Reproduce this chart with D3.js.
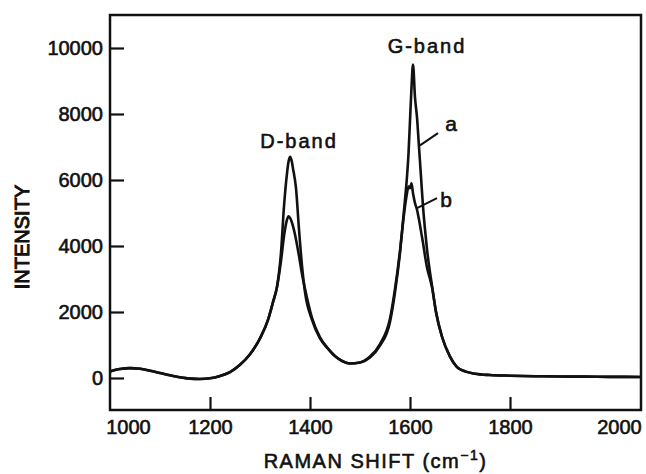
<!DOCTYPE html>
<html>
<head>
<meta charset="utf-8">
<script src="https://cdn.jsdelivr.net/npm/d3@7"></script>
<style>
  body { margin: 0; background: #fff; }
  text { font-family: "Liberation Sans", Arial, sans-serif; fill: #111; stroke: #111; stroke-width: 0.6px; }
</style>
</head>
<body>
<div id="chart"></div>
<script>
// Raman spectra
const shifts = [1000, 1020, 1040, 1060, 1080, 1100, 1120, 1140, 1160, 1180, 1200, 1220, 1240, 1260, 1280, 1300,
  1316, 1326, 1334, 1342, 1348, 1354, 1357, 1360, 1363, 1366, 1372, 1378, 1384, 1390,
  1404, 1420, 1434, 1450, 1466, 1480,
  1500, 1520, 1540, 1560, 1570, 1580, 1586, 1590, 1594, 1597, 1600, 1603, 1606,
  1610, 1614, 1618, 1622, 1626, 1630, 1634, 1640, 1644, 1652, 1664, 1680, 1694,
  1710, 1730, 1760, 1800, 1850, 1900, 1950, 2000, 2062]

const intensityA = [200, 270, 300, 280, 220, 150, 80, 20, -20, -30, -10, 60, 180, 400, 720, 1200,
  1760, 2300, 2760, 3800, 5200, 6200, 6550, 6700, 6600, 6350, 5750, 4500, 3400, 2600,
  1760, 1200, 920, 660, 500, 440,
  470, 620, 980, 1700, 2600, 3800, 4750, 5400, 6100, 6800, 7800, 8800, 9500,
  8500, 7900, 7000, 6100, 5200, 4500, 3900, 3200, 2800, 2000, 1250, 650, 330,
  200, 130, 90, 70, 55, 45, 40, 35, 30]

const intensityB = [200, 270, 300, 280, 220, 150, 80, 20, -20, -30, -10, 60, 180, 400, 720, 1200,
  1760, 2300, 2760, 3550, 4300, 4800, 4900, 4850, 4750, 4600, 4200, 3700, 3150, 2700,
  1820, 1230, 930, 670, 505, 440,
  470, 650, 1030, 1800, 2700, 3850, 4700, 5200, 5600, 5800, 5750, 5900, 5600,
  5300, 5100, 4800, 4450, 4100, 3700, 3350, 3000, 2750, 2000, 1250, 650, 330,
  200, 130, 90, 70, 55, 45, 40, 35, 30]

const xTicks = [1000, 1200, 1400, 1600, 1800, 2000]
const yTicks = [0, 2000, 4000, 6000, 8000, 10000]

// band labels and curve tags, in data units
const bandLabels = [
  { text: 'D-band', x: 1378, y: 7180 },
  { text: 'G-band', x: 1634, y: 10060 }
]
const curveTags = [
  { text: 'a', from: [1620, 7050], to: [1656, 7420], at: [1682, 7700] },
  { text: 'b', from: [1614, 5150], to: [1654, 5450], at: [1672, 5400] }
]

const width = 646,
  height = 474
const padLeft = 110, padRight = 641, padTop = 15, padBottom = 410

let svg = d3.select('#chart')
  .append('svg')
  .attr('width', width)
  .attr('height', height)

const x = d3.scaleLinear()
  .domain([1000, 2062])
  .range([padLeft, padRight])

const y = d3.scaleLinear()
  .domain([-970, 11000])
  .range([padBottom, padTop])

// frame
svg.append('rect')
  .attr('x', padLeft)
  .attr('y', padTop)
  .attr('width', padRight - padLeft)
  .attr('height', padBottom - padTop)
  .attr('fill', 'none')
  .attr('stroke', '#111')
  .attr('stroke-width', 2.5)

// axes
let yAxis = svg.append('g')
  .attr('transform', `translate(${padLeft},0)`)
  .call(d3.axisLeft(y).tickValues(yTicks).tickFormat(d3.format('d'))
    .tickSizeInner(-14).tickSizeOuter(0).tickPadding(7))
yAxis.select('.domain').remove()

let xAxis = svg.append('g')
  .attr('transform', `translate(0,${padBottom})`)
  .call(d3.axisBottom(x).tickValues(xTicks).tickFormat(d3.format('d'))
    .tickSizeInner(-13).tickSizeOuter(0).tickPadding(10))
xAxis.select('.domain').remove()
xAxis.selectAll('.tick')
  .filter(d => d === 1000 || d === 2000)
  .select('line').remove()
xAxis.selectAll('.tick text')
  .attr('dx', d => d === 1000 ? 18 : d === 2000 ? 9 : 0)

svg.selectAll('.tick line')
  .attr('stroke', '#111')
  .attr('stroke-width', 2.2)
svg.selectAll('.tick text')
  .style('font-size', '20px')
  .attr('fill', '#111')

// spectra
const line = (vals) => d3.line()
  .x((d, i) => x(shifts[i]))
  .y(d => y(d))
  .curve(d3.curveMonotoneX)(vals)

;[intensityA, intensityB].forEach(vals => {
  svg.append('path')
    .attr('d', line(vals))
    .attr('fill', 'none')
    .attr('stroke', '#111')
    .attr('stroke-width', 2.6)
    .attr('stroke-linejoin', 'round')
})

// band labels
svg.selectAll('.band')
  .data(bandLabels)
  .enter()
  .append('text')
  .attr('class', 'band')
  .attr('x', d => x(d.x))
  .attr('y', d => y(d.y))
  .attr('text-anchor', 'middle')
  .attr('dominant-baseline', 'central')
  .style('font-size', '20px')
  .style('letter-spacing', '2px')
  .text(d => d.text)

// curve tags
curveTags.forEach(t => {
  svg.append('line')
    .attr('x1', x(t.from[0])).attr('y1', y(t.from[1]))
    .attr('x2', x(t.to[0])).attr('y2', y(t.to[1]))
    .attr('stroke', '#111')
    .attr('stroke-width', 2)
  svg.append('text')
    .attr('x', x(t.at[0]))
    .attr('y', y(t.at[1]))
    .attr('text-anchor', 'middle')
    .attr('dominant-baseline', 'central')
    .style('font-size', '21px')
    .text(t.text)
})

// axis titles
let xTitle = svg.append('text')
  .attr('x', (padLeft + padRight) / 2)
  .attr('y', 468)
  .attr('text-anchor', 'middle')
  .style('font-size', '20px')
  .style('letter-spacing', '1.5px')
xTitle.append('tspan').text('RAMAN SHIFT (cm')
xTitle.append('tspan').attr('dy', -8).style('font-size', '14px').text('\u22121')
xTitle.append('tspan').attr('dy', 8).text(')')

svg.append('text')
  .attr('transform', `translate(22,237) rotate(-90)`)
  .attr('text-anchor', 'middle')
  .attr('dominant-baseline', 'central')
  .style('font-size', '20px')
  .style('stroke-width', '1px')
  .text('INTENSITY')
</script>
</body>
</html>
